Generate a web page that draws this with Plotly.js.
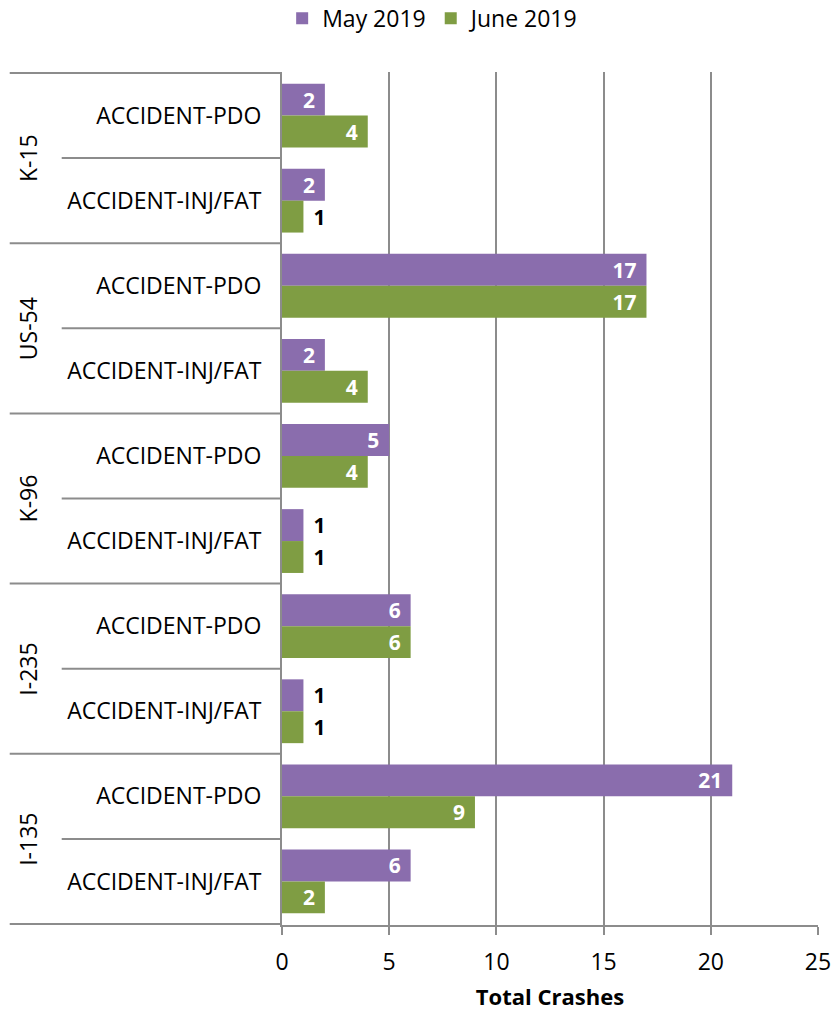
<!DOCTYPE html>
<html>
<head>
<meta charset="utf-8">
<script src="https://cdn.plot.ly/plotly-3.0.1.min.js"></script>
<style>html,body{margin:0;padding:0;background:#fff;}#chart{width:833px;height:1013px;}</style>
</head>
<body>
<div id="chart"></div>
<script>
const roads = ["K-15", "US-54", "K-96", "I-235", "I-135"];
const types = ["ACCIDENT-PDO", "ACCIDENT-INJ/FAT"];
const may2019 = [2, 2, 17, 2, 5, 1, 6, 1, 21, 6];
const june2019 = [4, 1, 17, 4, 4, 1, 6, 1, 9, 2];
const seriesNames = ["May 2019", "June 2019"];
const xTicks = [0, 5, 10, 15, 20, 25];

const catIds = [];
const catLabels = [];
roads.forEach(r => types.forEach(t => { catIds.push(r + "|" + t); catLabels.push(t); }));

const FONT = "Open Sans, Liberation Sans, sans-serif";
const purple = "#8a6dad";
const green = "#7f9d43";

function mkTrace(vals, name, color) {
  return {
    type: "bar", orientation: "h", name: name,
    y: catIds, x: vals,
    marker: {color: color, line: {width: 0}},
    text: vals.map(v => v >= 2 ? String(v) + "\u2009\u2009" : "\u2009\u2009" + String(v)),
    textposition: vals.map(v => v >= 2 ? "inside" : "outside"),
    insidetextanchor: "end",
    constraintext: "none",
    textangle: 0,
    cliponaxis: false,
    insidetextfont: {family: FONT, size: 21, color: "#ffffff", weight: "bold"},
    outsidetextfont: {family: FONT, size: 21, color: "#000000", weight: "bold"},
    hoverinfo: "x+name"
  };
}

const data = [mkTrace(may2019, seriesNames[0], purple), mkTrace(june2019, seriesNames[1], green)];

const shapes = [];
const lineCol = "#8c8c8c";
for (let i = 0; i <= catIds.length; i++) {
  const isGroup = i % 2 === 0;
  shapes.push({
    type: "line", xref: "paper", yref: "y",
    x0: isGroup ? -0.508 : -0.411, x1: 0,
    y0: i - 0.5, y1: i - 0.5,
    line: {color: lineCol, width: 2}
  });
}

const annotations = roads.map((r, k) => ({
  text: r, xref: "paper", yref: "y",
  x: -0.474, y: 2 * k + 0.5,
  textangle: -90, showarrow: false,
  font: {family: FONT, size: 23, color: "#000"},
  xanchor: "center", yanchor: "middle"
}));

const layout = {
  width: 833, height: 1013,
  margin: {l: 282, r: 15, t: 72, b: 88, autoexpand: false},
  paper_bgcolor: "#fff", plot_bgcolor: "#fff",
  font: {family: FONT, size: 23, color: "#000"},
  barmode: "group", bargap: 0.25, bargroupgap: 0,
  showlegend: true,
  legend: {orientation: "h", xref: "container", yref: "container",
           x: 0.52, xanchor: "center", y: 0.982, yanchor: "middle",
           font: {family: FONT, size: 23}, itemwidth: 30, tracegroupgap: 0,
           traceorder: "normal"},
  xaxis: {
    range: [0, 25], tickvals: xTicks, ticktext: xTicks.map(String),
    showgrid: true, gridcolor: lineCol, gridwidth: 2,
    showline: true, linecolor: lineCol, linewidth: 2,
    ticks: "outside", ticklen: 8, tickcolor: lineCol, tickwidth: 2,
    ticklabelstandoff: 7,
    tickfont: {family: FONT, size: 23},
    zeroline: false,
    title: {text: "Total Crashes", font: {family: FONT, size: 22, weight: "bold"}, standoff: 14},
    fixedrange: true
  },
  yaxis: {
    type: "category", categoryorder: "array", categoryarray: catIds,
    tickvals: catIds, ticktext: catLabels,
    autorange: "reversed",
    showline: true, linecolor: lineCol, linewidth: 2,
    ticks: "", ticklabelstandoff: 14,
    tickfont: {family: FONT, size: 23},
    showgrid: false, zeroline: false, fixedrange: true
  },
  shapes: shapes,
  annotations: annotations
};

Plotly.newPlot("chart", data, layout, {displayModeBar: false, staticPlot: true});
</script>
</body>
</html>
